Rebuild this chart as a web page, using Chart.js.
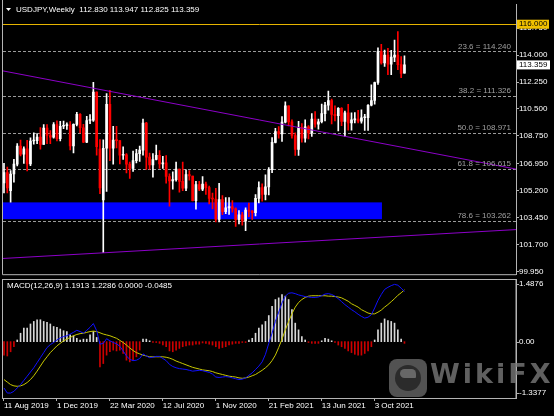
<!DOCTYPE html>
<html>
<head>
<meta charset="utf-8">
<script src="https://cdn.jsdelivr.net/npm/chart.js@4.4.1/dist/chart.umd.min.js"></script>
<style>
  html, body { margin: 0; padding: 0; background: #000; }
  #wrap { position: relative; width: 554px; height: 416px; background: #000; overflow: hidden; }
  #priceCanvas { position: absolute; left: 0; top: 0; }
  #macdCanvas { position: absolute; left: 0; top: 278px; }
  .wm-logo { position: absolute; left: 389px; top: 359px; width: 38px; height: 38px; border-radius: 8px; background: rgba(110,110,110,0.75); }
  .wm-logo .eye { position: absolute; left: 6px; top: 6px; width: 26px; height: 26px; border-radius: 50%; background: #2b2b2b; }
  .wm-logo .beak { position: absolute; left: 11px; top: 10px; width: 16px; height: 9px; border-radius: 9px 9px 2px 9px; background: rgba(110,110,110,0.9); }
  .wm-text { position: absolute; left: 430px; top: 358px; font: bold 27px "DejaVu Sans", sans-serif; letter-spacing: 3px; color: rgba(120,120,120,0.8); }
</style>
</head>
<body>
<div id="wrap">
  <canvas id="priceCanvas" width="554" height="279"></canvas>
  <canvas id="macdCanvas" width="554" height="138"></canvas>
  <div class="wm-logo"><div class="eye"></div><div class="beak"></div></div>
  <div class="wm-text">WikiFX</div>
</div>
<script>
// weekly USDJPY, 11 Aug 2019 .. 5 Dec 2021 (bar index 0..121)
const opens = [105.70,106.38,105.20,106.28,106.92,108.09,107.57,107.92,106.93,108.42,
  108.45,108.67,108.20,109.26,108.78,108.67,109.49,108.58,109.38,109.42,
  109.45,108.10,109.50,110.15,109.28,108.35,109.75,109.77,111.60,107.90,
  104.60,107.95,110.80,107.95,108.48,108.45,107.50,107.53,106.92,106.65,
  107.15,107.60,107.83,109.59,107.38,106.87,107.22,107.50,106.93,107.00,
  106.12,105.83,105.92,106.60,105.80,105.37,106.25,106.15,104.55,105.60,
  105.30,105.62,105.40,104.70,104.66,103.33,104.62,103.83,104.08,104.17,
  104.02,103.32,103.63,103.24,103.94,103.86,103.78,104.70,105.40,104.95,
  105.45,106.57,108.33,109.03,108.88,109.65,110.70,109.66,108.78,107.88,
  109.30,108.60,109.35,108.95,109.85,109.52,109.67,110.20,110.75,111.05,
  110.15,110.07,110.55,109.70,110.25,109.59,109.79,109.85,109.71,109.93,
  109.94,110.74,111.05,112.22,114.22,113.49,114.00,113.40,113.87,114.00,
  113.38,112.83];
const highs = [106.98,106.73,106.50,107.23,108.26,108.48,108.04,108.47,108.63,108.95,
  108.90,109.29,109.49,109.49,109.10,109.61,109.73,109.70,109.72,109.60,
  109.68,109.54,110.29,110.20,109.50,110.03,110.14,112.23,111.62,108.51,
  108.50,111.50,111.71,109.38,109.38,108.45,108.05,107.60,107.05,107.77,
  107.89,108.09,109.85,109.63,107.64,107.60,108.16,107.80,107.43,107.47,
  106.30,106.43,107.05,106.60,107.05,106.55,106.50,106.15,105.80,105.80,
  106.11,105.75,105.50,105.05,105.35,105.68,104.88,104.75,104.75,104.55,
  104.08,103.90,103.80,104.08,104.40,103.92,104.94,105.77,105.65,106.22,
  106.69,108.64,109.24,109.36,110.00,110.97,110.70,109.80,108.95,109.70,
  109.56,109.79,109.42,110.20,110.33,109.85,110.82,110.93,111.66,111.15,
  110.70,110.59,110.59,110.37,110.80,110.25,110.26,110.42,110.45,110.15,
  110.79,112.07,112.25,114.46,114.70,114.32,114.44,114.30,114.97,115.52,
  113.90,113.947];
const lows = [105.05,105.05,104.45,105.75,106.80,107.45,106.96,106.48,106.82,108.22,
  108.25,107.89,108.20,108.25,108.25,108.60,108.42,108.42,109.23,109.18,
  107.85,107.65,109.40,108.95,108.31,108.31,109.55,109.70,107.50,105.00,
  101.18,105.15,107.15,106.92,107.98,106.93,107.23,106.35,105.99,106.45,
  107.00,107.10,107.50,106.58,106.60,106.07,107.20,106.64,106.64,105.68,
  104.19,105.30,105.82,105.10,105.20,105.20,105.88,104.54,104.00,105.20,
  105.20,104.95,104.34,104.02,103.18,103.18,103.65,103.70,103.66,103.80,
  102.88,103.05,102.96,102.60,103.52,103.33,103.56,104.41,104.52,104.60,
  104.92,106.37,108.30,108.60,108.40,109.60,109.40,108.60,107.48,107.48,
  108.34,108.34,108.56,108.72,109.32,109.19,109.60,109.72,110.42,109.53,
  109.72,109.07,109.42,108.72,109.12,109.12,109.60,109.59,109.58,109.11,
  109.11,110.70,110.82,112.10,113.41,113.26,112.73,112.73,113.57,113.05,
  112.53,112.825];
const closes = [106.38,105.38,106.28,106.92,108.09,107.57,107.92,106.93,108.42,108.45,
  108.67,108.20,109.26,108.78,108.67,109.49,108.58,109.38,109.42,109.45,
  108.10,109.50,110.15,109.28,108.35,109.75,109.77,111.60,108.05,105.38,
  107.95,110.80,107.95,108.48,108.45,107.50,107.53,106.92,106.65,107.15,
  107.60,107.83,109.59,107.38,106.87,107.22,107.50,106.93,107.00,106.12,
  105.83,105.92,106.60,105.80,105.37,106.25,106.15,104.55,105.60,105.30,
  105.62,105.40,104.70,104.66,103.33,104.62,103.83,104.08,104.17,104.02,
  103.32,103.63,103.24,103.94,103.86,103.78,104.70,105.40,104.95,105.45,
  106.57,108.33,109.03,108.88,109.65,110.70,109.66,108.78,107.88,109.30,
  108.60,109.35,108.95,109.85,109.52,109.67,110.20,110.75,111.05,110.15,
  110.07,110.55,109.70,110.25,109.59,109.79,109.85,109.71,109.93,109.94,
  110.74,111.05,112.22,114.22,113.49,114.00,113.40,113.87,114.00,113.38,
  112.80,113.359];

// MACD(12,26,9) panel
const macdHist = [-0.32,-0.34,-0.24,-0.12,0.04,0.20,0.32,0.32,0.42,0.48,
  0.52,0.52,0.48,0.46,0.42,0.36,0.34,0.30,0.26,0.24,
  0.16,0.14,0.08,0.04,0.06,0.06,0.16,0.24,0.10,-0.60,
  -0.52,-0.32,-0.24,-0.20,-0.22,-0.20,-0.28,-0.44,-0.48,-0.44,
  -0.36,-0.20,0.06,0.06,0.02,-0.02,-0.02,-0.04,-0.08,-0.12,
  -0.22,-0.24,-0.20,-0.16,-0.12,-0.10,-0.08,-0.08,-0.06,-0.06,
  -0.03,-0.04,-0.06,-0.08,-0.12,-0.16,-0.14,-0.12,-0.08,-0.06,
  -0.04,-0.04,-0.02,-0.02,0.04,0.08,0.20,0.32,0.40,0.48,
  0.62,0.84,1.00,1.04,1.12,1.08,1.00,0.76,0.44,0.28,
  0.12,0.04,-0.02,-0.04,-0.04,-0.04,0.02,0.08,0.06,0.02,
  -0.02,-0.08,-0.12,-0.16,-0.22,-0.26,-0.30,-0.32,-0.32,-0.28,
  -0.22,-0.12,0.04,0.28,0.44,0.54,0.50,0.48,0.44,0.28,
  0.06,-0.04];
const macdLine = [-1.10,-1.22,-1.22,-1.18,-1.10,-1.02,-0.92,-0.82,-0.72,-0.62,
  -0.50,-0.38,-0.26,-0.14,-0.07,-0.02,0.04,0.09,0.12,0.14,
  0.18,0.22,0.27,0.24,0.20,0.27,0.34,0.43,0.26,-0.06,
  -0.04,0.07,0.02,-0.02,-0.05,-0.11,-0.22,-0.34,-0.42,-0.45,
  -0.44,-0.40,-0.29,-0.34,-0.38,-0.37,-0.35,-0.35,-0.40,-0.45,
  -0.54,-0.59,-0.62,-0.64,-0.65,-0.66,-0.68,-0.70,-0.69,-0.68,
  -0.69,-0.71,-0.73,-0.77,-0.84,-0.85,-0.84,-0.83,-0.84,-0.86,
  -0.88,-0.90,-0.89,-0.86,-0.80,-0.74,-0.66,-0.58,-0.48,-0.30,
  -0.04,0.20,0.48,0.70,0.92,1.08,1.15,1.16,1.14,1.11,
  1.09,1.07,1.06,1.05,1.05,1.06,1.09,1.13,1.14,1.12,
  1.08,1.02,0.95,0.88,0.82,0.76,0.71,0.65,0.60,0.56,
  0.58,0.64,0.80,0.98,1.12,1.24,1.29,1.33,1.36,1.34,
  1.27,1.19];
const signalLine = [-0.90,-0.96,-1.02,-1.05,-1.06,-1.05,-1.02,-0.97,-0.90,-0.81,
  -0.70,-0.58,-0.46,-0.36,-0.26,-0.18,-0.10,-0.04,0.02,0.06,
  0.10,0.14,0.17,0.19,0.20,0.22,0.24,0.25,0.24,0.21,
  0.18,0.16,0.14,0.11,0.08,0.03,-0.02,-0.08,-0.15,-0.21,
  -0.26,-0.29,-0.32,-0.34,-0.36,-0.36,-0.36,-0.36,-0.36,-0.37,
  -0.39,-0.42,-0.46,-0.49,-0.52,-0.55,-0.58,-0.61,-0.63,-0.65,
  -0.67,-0.68,-0.69,-0.71,-0.74,-0.76,-0.78,-0.80,-0.82,-0.83,
  -0.84,-0.86,-0.87,-0.86,-0.84,-0.81,-0.78,-0.73,-0.68,-0.62,
  -0.55,-0.45,-0.32,-0.14,0.06,0.28,0.48,0.66,0.82,0.93,
  1.00,1.05,1.08,1.09,1.09,1.09,1.09,1.09,1.08,1.08,
  1.07,1.06,1.04,1.00,0.96,0.90,0.86,0.82,0.76,0.72,
  0.68,0.66,0.66,0.70,0.75,0.82,0.88,0.95,1.02,1.10,
  1.16,1.23];
const macdLegend = ['1.1913', '1.2286', '0.0000', '-0.0485'];

// axis ticks
const priceTicks = [99.95, 101.70, 103.45, 105.20, 106.95, 108.75, 110.50, 112.25, 114.00, 115.75];
const dateTickIndex = [0, 16, 32, 48, 64, 80, 96, 112];
const dateTickLabels = ['11 Aug 2019', '1 Dec 2019', '22 Mar 2020', '12 Jul 2020', '1 Nov 2020', '21 Feb 2021', '13 Jun 2021', '3 Oct 2021'];
const macdTickValues = [1.4876, 0, -1.3377];
const macdTickLabels = ['1.4876', '0.00', '-1.3377'];

// drawn objects
const fibLevels = ['23.6', '38.2', '50.0', '61.8', '78.6'];
const fibPrices = [114.240, 111.326, 108.971, 106.615, 103.262];
const resistance = 116.000;
const downTrend = [[-0.3, 112.97], [154.7, 106.60]];
const upTrend = [[-0.3, 100.80], [154.7, 102.675]];
const zoneBars = [-5, 114.2];
const zonePrices = [103.35, 104.44];

const FONT = '"Liberation Sans", Arial, sans-serif';
const FRAME = '#b4b4b4';
const X_MIN = -0.3, X_MAX = 154.7;

const bullColor = '#ffffff', bearColor = '#ff0000';
const candleColors = closes.map((c, i) => c >= opens[i] ? bullColor : bearColor);

const pricePlugin = {
  id: 'priceOverlay',
  beforeDatasetsDraw(chart) {
    const { ctx, chartArea: a, scales: { x, y } } = chart;
    ctx.save();
    ctx.beginPath();
    ctx.rect(a.left, a.top, a.right - a.left, a.bottom - a.top);
    ctx.clip();
    // supply zone
    const zx0 = Math.max(a.left, x.getPixelForValue(zoneBars[0]));
    const zx1 = x.getPixelForValue(zoneBars[1]);
    const zy0 = y.getPixelForValue(zonePrices[1]);
    const zy1 = y.getPixelForValue(zonePrices[0]);
    ctx.fillStyle = '#0000ff';
    ctx.fillRect(zx0, zy0, zx1 - zx0, zy1 - zy0);
    // fibo levels
    ctx.strokeStyle = '#9a9a9a';
    ctx.lineWidth = 1;
    ctx.setLineDash([3, 2]);
    fibPrices.forEach(p => {
      const py = Math.round(y.getPixelForValue(p)) + 0.5;
      ctx.beginPath();
      ctx.moveTo(a.left, py);
      ctx.lineTo(a.right, py);
      ctx.stroke();
    });
    ctx.setLineDash([]);
    // resistance line
    const ry = Math.round(y.getPixelForValue(resistance)) + 0.5;
    ctx.strokeStyle = '#e6b400';
    ctx.beginPath();
    ctx.moveTo(a.left, ry);
    ctx.lineTo(a.right, ry);
    ctx.stroke();
    ctx.restore();
  },
  afterDatasetsDraw(chart) {
    const { ctx, chartArea: a, scales: { y } } = chart;
    ctx.save();
    ctx.font = '8px ' + FONT;
    ctx.fillStyle = '#a0a0a0';
    ctx.textAlign = 'right';
    ctx.textBaseline = 'bottom';
    fibPrices.forEach((p, i) => {
      ctx.fillText(fibLevels[i] + ' = ' + p.toFixed(3), a.right - 5, y.getPixelForValue(p) - 1);
    });
    // title
    ctx.fillStyle = '#ffffff';
    ctx.beginPath();
    ctx.moveTo(6, 8); ctx.lineTo(11, 8); ctx.lineTo(8.5, 11); ctx.closePath();
    ctx.fill();
    ctx.textAlign = 'left';
    ctx.textBaseline = 'middle';
    ctx.font = '8px ' + FONT;
    const last = closes.length - 1;
    ctx.fillText('USDJPY,Weekly  ' + opens[last].toFixed(3) + ' ' + highs[last].toFixed(3) + ' ' +
      lows[last].toFixed(3) + ' ' + closes[last].toFixed(3), 16, 10);
    ctx.restore();
  },
  afterDraw(chart) {
    const { ctx, chartArea: a, scales: { y } } = chart;
    ctx.save();
    ctx.strokeStyle = FRAME;
    ctx.lineWidth = 1;
    ctx.beginPath();
    ctx.moveTo(a.left - 0.5, 0);
    ctx.lineTo(a.left - 0.5, a.bottom + 0.5);
    ctx.lineTo(a.right, a.bottom + 0.5);
    ctx.stroke();
    ctx.font = '8px ' + FONT;
    ctx.textBaseline = 'middle';
    ctx.textAlign = 'left';
    // resistance price box
    const ry = y.getPixelForValue(resistance);
    ctx.fillStyle = '#f0c000';
    ctx.fillRect(a.right + 1, ry - 4.5, 32, 9);
    ctx.fillStyle = '#000';
    ctx.fillText(resistance.toFixed(3), a.right + 3, ry);
    // current bid box
    const cy = y.getPixelForValue(closes[closes.length - 1]);
    ctx.fillStyle = '#ffffff';
    ctx.fillRect(a.right + 1, cy - 4.5, 33, 9);
    ctx.fillStyle = '#000';
    ctx.fillText(closes[closes.length - 1].toFixed(3), a.right + 3, cy);
    ctx.restore();
  }
};

new Chart(document.getElementById('priceCanvas'), {
  data: {
    datasets: [
      { type: 'line', data: downTrend.map(p => ({ x: p[0], y: p[1] })), borderColor: '#8c00c8', borderWidth: 1, pointRadius: 0, order: 0 },
      { type: 'line', data: upTrend.map(p => ({ x: p[0], y: p[1] })), borderColor: '#8c00c8', borderWidth: 1, pointRadius: 0, order: 0 },
      { type: 'bar', data: opens.map((o, i) => ({ x: i, y: [o, closes[i]] })), backgroundColor: candleColors,
        barThickness: 2, minBarLength: 1, grouped: false, order: 1 },
      { type: 'bar', data: lows.map((l, i) => ({ x: i, y: [l, highs[i]] })), backgroundColor: candleColors,
        barThickness: 1, grouped: false, order: 2 }
    ]
  },
  options: {
    responsive: false, animation: false, events: [],
    layout: { padding: { left: 3, top: 4, right: 0, bottom: 2 } },
    plugins: { legend: { display: false }, tooltip: { enabled: false } },
    scales: {
      x: { type: 'linear', min: X_MIN, max: X_MAX, offset: false, display: false },
      y: {
        position: 'right', min: 99.78, max: 117.26,
        afterBuildTicks: s => { s.ticks = priceTicks.map(v => ({ value: v })); },
        afterFit: s => { s.width = 38; },
        ticks: { color: '#ffffff', font: { family: FONT, size: 8 }, padding: 0, autoSkip: false,
          callback: v => Number(v).toFixed(3) },
        grid: { drawOnChartArea: false, tickLength: 3, color: FRAME },
        border: { color: FRAME }
      }
    }
  },
  plugins: [pricePlugin]
});

const macdPlugin = {
  id: 'macdOverlay',
  afterDraw(chart) {
    const { ctx, chartArea: a, scales: { y } } = chart;
    ctx.save();
    ctx.strokeStyle = FRAME;
    ctx.lineWidth = 1;
    ctx.strokeRect(a.left - 0.5, a.top + 0.5, a.right - a.left + 0.5, a.bottom - a.top);
    ctx.font = '8px ' + FONT;
    ctx.fillStyle = '#ffffff';
    ctx.textBaseline = 'middle';
    ctx.textAlign = 'left';
    const shift = [5, 0, -5];
    macdTickValues.forEach((v, i) => {
      const py = y.getPixelForValue(v);
      ctx.beginPath();
      ctx.moveTo(a.right, Math.round(py + shift[i]) + 0.5);
      ctx.lineTo(a.right + 3, Math.round(py + shift[i]) + 0.5);
      ctx.stroke();
      ctx.fillText(macdTickLabels[i], a.right + 3, py + shift[i]);
    });
    ctx.fillText('MACD(12,26,9) ' + macdLegend.join(' '), 7, a.top + 7);
    ctx.restore();
  }
};

new Chart(document.getElementById('macdCanvas'), {
  data: {
    datasets: [
      { type: 'line', data: macdLine.map((v, i) => ({ x: i, y: v })), borderColor: '#1010ff', borderWidth: 1, pointRadius: 0, order: 0 },
      { type: 'line', data: signalLine.map((v, i) => ({ x: i, y: v })), borderColor: '#c8c800', borderWidth: 1, pointRadius: 0, order: 1 },
      { type: 'bar', data: macdHist.map((v, i) => ({ x: i, y: v })), barThickness: 1, grouped: false, order: 2,
        backgroundColor: c => (c.raw && c.raw.y >= 0) ? '#d8d8d8' : '#cc0000' }
    ]
  },
  options: {
    responsive: false, animation: false, events: [],
    layout: { padding: { left: 3, top: 1, right: 0, bottom: 0 } },
    plugins: { legend: { display: false }, tooltip: { enabled: false } },
    scales: {
      x: {
        type: 'linear', min: X_MIN, max: X_MAX, offset: false, position: 'bottom',
        afterBuildTicks: s => { s.ticks = dateTickIndex.map(v => ({ value: v })); },
        afterFit: s => { s.height = 18; },
        ticks: { color: '#ffffff', font: { family: FONT, size: 8 }, padding: 0, align: 'start',
          maxRotation: 0, autoSkip: false, callback: (v, i) => dateTickLabels[i] },
        grid: { drawOnChartArea: false, tickLength: 3, color: FRAME, offset: false },
        border: { color: FRAME }
      },
      y: {
        position: 'right', min: -1.3377, max: 1.4876,
        afterFit: s => { s.width = 38; },
        ticks: { display: false },
        grid: { display: false },
        border: { color: FRAME }
      }
    }
  },
  plugins: [macdPlugin]
});
</script>
</body>
</html>
